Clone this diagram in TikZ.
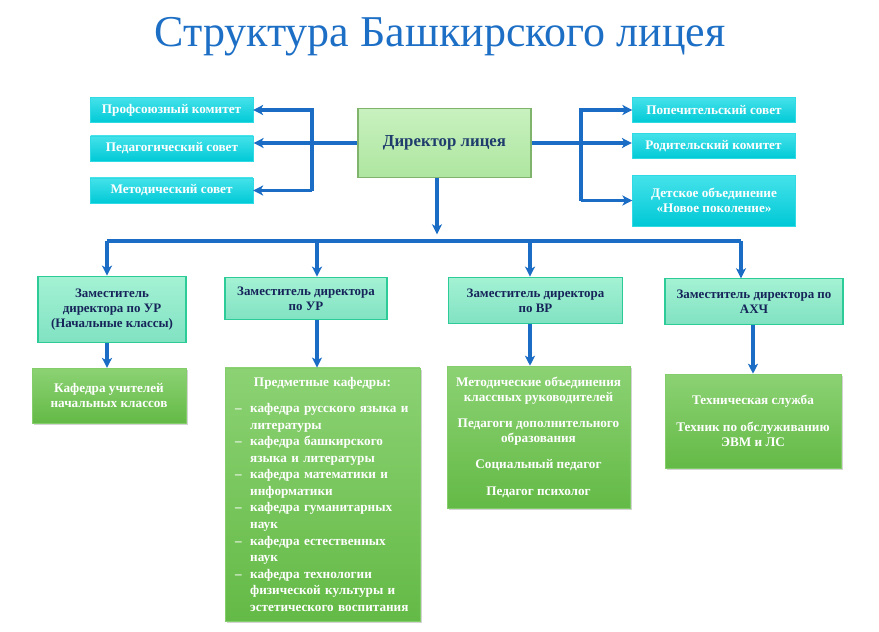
\documentclass[tikz,border=0pt]{standalone}
\usepackage{fontspec}
\setmainfont{Liberation Serif}
\usetikzlibrary{positioning,calc,arrows.meta,shadows}
\definecolor{lineblue}{HTML}{1A6CC4}
\definecolor{titleblue}{HTML}{1D6FC6}
\definecolor{cyantop}{HTML}{45E2EA}
\definecolor{cyanbot}{HTML}{00C9D6}
\definecolor{deptop}{HTML}{A4F2D4}
\definecolor{depbot}{HTML}{80E2C2}
\definecolor{depline}{HTML}{2CCB98}
\definecolor{deptext}{HTML}{16245A}
\definecolor{grntop}{HTML}{8CD274}
\definecolor{grnbot}{HTML}{64BA46}
\definecolor{dirtop}{HTML}{C8F1BF}
\definecolor{dirbot}{HTML}{AEE6A0}
\definecolor{dirline}{HTML}{80B46C}
\definecolor{dirtext}{HTML}{1F3C6C}
\newcommand\kaf[2]{\hspace*{5.5pt}\makebox[11.25pt][l]{–}#1\\\hspace*{16.75pt}#2}

\begin{document}
\begin{tikzpicture}[x=0.75pt,y=-0.75pt,>={Stealth[length=7.5pt,width=7.5pt,inset=2pt]},
  link/.style={->,draw=lineblue,line width=2.4pt},
  bus/.style={draw=lineblue,line width=2.4pt},
  boxfont/.style={font=\fontsize{9.9}{11.2}\selectfont\bfseries},
  cyan box/.style={boxfont,top color=cyantop,bottom color=cyanbot,draw=cyantop!70!cyanbot,text=white,align=center,inner sep=2pt,minimum width=122pt,minimum height=19pt},
  dir box/.style={font=\fontsize{12.6}{14}\selectfont\bfseries,top color=dirtop,bottom color=dirbot,draw=dirline,line width=1.2pt,text=dirtext,minimum width=130pt,minimum height=51.5pt},
  dep box/.style={font=\fontsize{9.7}{11}\selectfont\bfseries,top color=deptop,bottom color=depbot,draw=depline,line width=0.8pt,text=deptext,align=center,inner sep=2pt},
  green box/.style={boxfont,top color=grntop,bottom color=grnbot,draw=grntop!80!grnbot,text=white,inner sep=2pt,
    drop shadow={shadow xshift=1.6pt,shadow yshift=-1.6pt,opacity=0.35}}]
\useasboundingbox (0,0) rectangle (879,632);
% title
\node[text=titleblue,font=\fontsize{33}{38}\selectfont] (title) at (440,37) {Структура Башкирского лицея};
% nodes
\node[dir box] (dir) at (444.5,143) {Директор лицея};
\node[cyan box] (prof) at (171.5,110) {Профсоюзный комитет};
\node[cyan box] (ped) at (172,148.5) {Педагогический совет};
\node[cyan box] (met) at (171.5,190.5) {Методический совет};
\node[cyan box] (pop) at (714,110) {Попечительский совет};
\node[cyan box] (rod) at (713.5,146) {Родительский комитет};
\node[cyan box,minimum height=38pt] (det) at (714,200.5) {Детское объединение\\«Новое поколение»};
\node[dep box,minimum width=111pt,minimum height=50pt] (dep1) at (112,309.5) {Заместитель\\директора по УР\\(Начальные классы)};
\node[dep box,minimum width=121.5pt,minimum height=32pt] (dep2) at (306,298.5) {Заместитель директора\\по УР};
\node[dep box,minimum width=131pt,minimum height=35pt] (dep3) at (535.5,300.5) {Заместитель директора\\по ВР};
\node[dep box,minimum width=133.5pt,minimum height=34pt] (dep4) at (754,301.5) {Заместитель директора по\\АХЧ};
\node[green box,align=center,minimum width=115.5pt,minimum height=41pt] (kaf1) at (109,395.5) {Кафедра учителей\\начальных классов};
\node[green box,align=left,text width=142pt,inner xsep=2pt,minimum height=190pt,font=\fontsize{9.9}{12.4}\selectfont\bfseries] (kaf2) at (322.5,494.5)
  {\makebox[\linewidth]{Предметные кафедры:}\\[7pt]
   \kaf{кафедра русского языка и}{литературы}\\
   \kaf{кафедра башкирского}{языка и литературы}\\
   \kaf{кафедра математики и}{информатики}\\
   \kaf{кафедра гуманитарных}{наук}\\
   \kaf{кафедра естественных}{наук}\\
   \kaf{кафедра технологии}{физической культуры и}\\
   \hspace*{16.75pt}эстетического воспитания};
\node[green box,align=center,minimum width=137pt,minimum height=106.5pt,font=\fontsize{9.9}{11.25}\selectfont\bfseries] (vr) at (538.5,437)
  {Методические объединения\\классных руководителей\\[8.5pt]
   Педагоги дополнительного\\образования\\[8.5pt]
   Социальный педагог\\[8.5pt]
   Педагог психолог};
\node[green box,align=center,minimum width=132pt,minimum height=70.5pt,font=\fontsize{9.9}{11.25}\selectfont\bfseries] (tech) at (753,421)
  {Техническая служба\\[8.5pt]Техник по обслуживанию\\ЭВМ и ЛС};
% coordinates of the lines
\coordinate (lv) at (312,0);
\coordinate (rv) at (581,0);
\coordinate (hub) at (437,241);
\coordinate (c1) at (107,241);
\coordinate (c2) at (317,241);
\coordinate (c3) at (530,241);
\coordinate (c4) at (741,241);
%edges
\draw[link] (dir.west) -- (ped.east |- dir.west);
\draw[link] (met.east -| lv) |- (prof.east);
\draw[link] (lv |- met.east) -- (met.east);
\draw[link] (dir.east) -- (rod.west |- dir.east);
\draw[link] (det.west -| rv) |- (pop.west);
\draw[link] (rv |- det.west) -- (det.west);
\draw[link,shorten >=5pt] (dir.south -| hub) -- (hub);
\draw[bus] (c1) -- (c4);
\draw[link] (c1) -- (c1 |- dep1.north);
\draw[link] (c2) -- (c2 |- dep2.north);
\draw[link] (c3) -- (c3 |- dep3.north);
\draw[link] (c4) -- (c4 |- dep4.north);
\draw[link] (dep1.south -| c1) -- (c1 |- kaf1.north);
\draw[link] (dep2.south -| c2) -- (c2 |- kaf2.north);
\draw[link] (dep3.south -| c3) -- (c3 |- vr.north);
\draw[link] (dep4.south -| tech.north) -- (tech.north);
\end{tikzpicture}
\end{document}
